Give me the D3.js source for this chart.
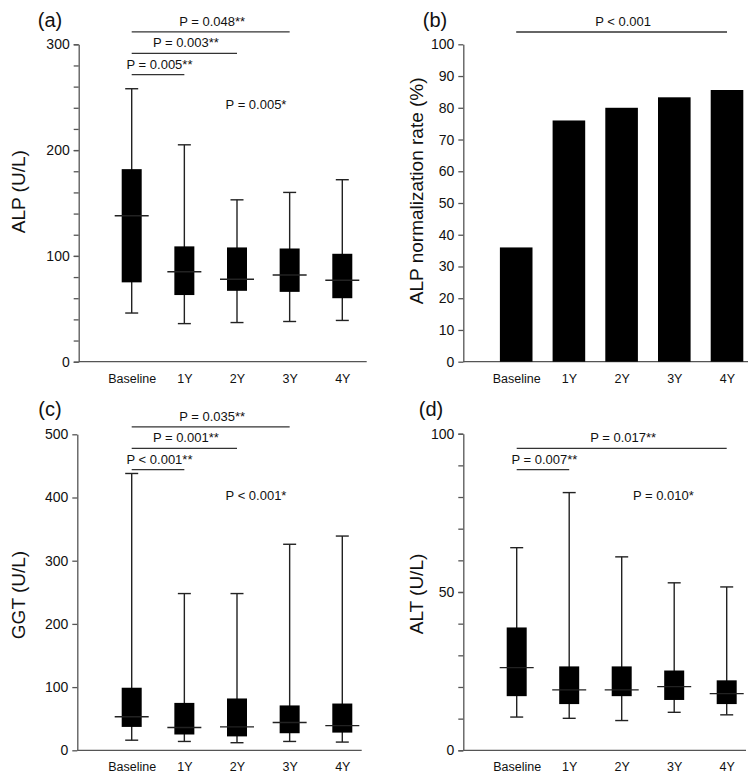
<!DOCTYPE html>
<html>
<head>
<meta charset="utf-8">
<script src="https://cdn.jsdelivr.net/npm/d3@7"></script>
<style>
  body { margin: 0; background: #fff; }
  svg { font-family: "Liberation Sans", Arial, sans-serif; }
  .axis path, .axis line { stroke: #555; stroke-width: 1.3; }
  .axis text { fill: #111; }
</style>
</head>
<body>
<svg id="fig" width="750" height="782"></svg>
<script>
const categories = ["Baseline", "1Y", "2Y", "3Y", "4Y"];

// box stats per category: [low, q1, median, q3, high]
const alpBox = [
  [46, 75, 138, 182, 258],
  [36, 63, 85, 109, 205],
  [37, 67, 78, 108, 153],
  [38, 66, 82, 107, 160],
  [39, 60, 77, 102, 172]
];
const ggtBox = [
  [16, 37, 53, 99, 438],
  [14, 25, 36, 75, 248],
  [12, 22, 37, 82, 248],
  [14, 27, 44, 71, 326],
  [13, 28, 39, 74, 339]
];
const altBox = [
  [10.5, 17.1, 26.1, 38.8, 64],
  [10.1, 14.6, 19.1, 26.5, 81.4],
  [9.4, 17.1, 19.1, 26.5, 61.1],
  [12, 15.9, 20.1, 25.2, 52.9],
  [11.2, 14.6, 17.9, 22.1, 51.6]
];
const alpRate = [36, 76, 80, 83.3, 85.6];

// pairwise comparisons: from / to category index, stacking level
const alpSig = [
  { from: 0, to: 1, level: 0, label: "P = 0.005**" },
  { from: 0, to: 2, level: 1, label: "P = 0.003**" },
  { from: 0, to: 3, level: 2, label: "P = 0.048**" }
];
const rateSig = [{ from: 0, to: 4, level: 0, label: "P < 0.001" }];
const ggtSig = [
  { from: 0, to: 1, level: 0, label: "P < 0.001**" },
  { from: 0, to: 2, level: 1, label: "P = 0.001**" },
  { from: 0, to: 3, level: 2, label: "P = 0.035**" }
];
const altSig = [
  { from: 0, to: 1, level: 0, label: "P = 0.007**" },
  { from: 0, to: 4, level: 1, label: "P = 0.017**" }
];

const svg = d3.select("#fig");

function setupPanel(cfg) {
  const g = svg.append("g");
  const x = d3.scalePoint().domain(categories).range([cfg.first, cfg.first + 4 * cfg.step]);
  const y = d3.scaleLinear().domain(cfg.domain).range([cfg.yBot, cfg.yTop]);

  // minor ticks
  if (cfg.minor) {
    g.append("g").attr("class", "axis")
      .attr("transform", `translate(${cfg.x0},0)`)
      .call(d3.axisLeft(y).tickValues(cfg.minor).tickSize(5).tickFormat(""))
      .call(s => s.select(".domain").remove());
  }
  g.append("g").attr("class", "axis")
    .attr("transform", `translate(${cfg.x0},0)`)
    .call(d3.axisLeft(y).tickValues(cfg.major).tickSize(5).tickSizeOuter(0).tickPadding(4))
    .call(s => s.selectAll("text").style("font-size", "14px"));

  // x axis line + labels
  g.append("line")
    .attr("x1", cfg.x0).attr("x2", cfg.x1)
    .attr("y1", cfg.yBot).attr("y2", cfg.yBot)
    .attr("stroke", "#555").attr("stroke-width", 1.3);
  g.append("g").attr("class", "axis")
    .attr("transform", `translate(0,${cfg.yBot})`)
    .call(d3.axisBottom(x).tickSize(0).tickPadding(12))
    .call(s => s.select(".domain").remove())
    .call(s => s.selectAll("text").style("font-size", "12.5px"));

  // y title
  g.append("text")
    .attr("transform", `translate(${cfg.titleX},${cfg.titleY}) rotate(-90)`)
    .attr("text-anchor", "middle").attr("dy", "0.35em")
    .style("font-size", "19px").attr("fill", "#111")
    .text(cfg.title);

  // panel letter
  g.append("text")
    .attr("x", cfg.letterX).attr("y", cfg.letterY)
    .attr("text-anchor", "middle").attr("dy", "0.35em")
    .style("font-size", "20px").attr("fill", "#111")
    .text(cfg.letter);

  // significance brackets
  cfg.sig.forEach(s => {
    const ly = cfg.sigY - s.level * 21.4;
    const xa = x(categories[s.from]), xb = x(categories[s.to]);
    g.append("line")
      .attr("x1", xa).attr("x2", xb).attr("y1", ly).attr("y2", ly)
      .attr("stroke", "#333").attr("stroke-width", 1.3);
    g.append("text")
      .attr("x", (xa + xb) / 2 + 1.5).attr("y", ly - 10.5)
      .attr("text-anchor", "middle").attr("dy", "0.35em")
      .style("font-size", "13px").attr("fill", "#111")
      .text(s.label);
  });

  if (cfg.overall) {
    g.append("text")
      .attr("x", cfg.overallX).attr("y", cfg.overallY)
      .attr("text-anchor", "middle").attr("dy", "0.35em")
      .style("font-size", "13px").attr("fill", "#111")
      .text(cfg.overall);
  }
  return { g, x, y };
}

function drawBoxes(p, stats) {
  const boxW = 20, medW = 34, capW = 13;
  const items = p.g.selectAll("g.box")
    .data(stats.map((d, i) => ({ cat: categories[i], v: d })))
    .join("g").attr("class", "box");

  items.append("line")
    .attr("x1", d => p.x(d.cat)).attr("x2", d => p.x(d.cat))
    .attr("y1", d => p.y(d.v[4])).attr("y2", d => p.y(d.v[0]))
    .attr("stroke", "#222").attr("stroke-width", 1.4);
  items.selectAll("line.cap")
    .data(d => [d.v[0], d.v[4]].map(v => ({ cat: d.cat, v })))
    .join("line").attr("class", "cap")
    .attr("x1", d => p.x(d.cat) - capW / 2).attr("x2", d => p.x(d.cat) + capW / 2)
    .attr("y1", d => p.y(d.v)).attr("y2", d => p.y(d.v))
    .attr("stroke", "#222").attr("stroke-width", 1.4);
  items.append("rect")
    .attr("x", d => p.x(d.cat) - boxW / 2).attr("width", boxW)
    .attr("y", d => p.y(d.v[3])).attr("height", d => p.y(d.v[1]) - p.y(d.v[3]))
    .attr("fill", "#000");
  items.append("line")
    .attr("x1", d => p.x(d.cat) - medW / 2).attr("x2", d => p.x(d.cat) + medW / 2)
    .attr("y1", d => p.y(d.v[2])).attr("y2", d => p.y(d.v[2]))
    .attr("stroke", "#222").attr("stroke-width", 1.4);
}

// (a) ALP
const pa = setupPanel({
  x0: 78.7, x1: 366.7, yTop: 44.3, yBot: 361.7, domain: [0, 300],
  major: [0, 100, 200, 300], minor: d3.range(0, 301, 20),
  first: 131.7, step: 52.65,
  title: "ALP (U/L)", titleX: 18, titleY: 191.7,
  letter: "(a)", letterX: 50, letterY: 20,
  sig: alpSig, sigY: 74.7,
  overall: "P = 0.005*", overallX: 256, overallY: 104.7
});
drawBoxes(pa, alpBox);

// (b) ALP normalization rate
const pb = setupPanel({
  x0: 463.3, x1: 748, yTop: 44.3, yBot: 361.7, domain: [0, 100],
  major: d3.range(0, 101, 10), minor: null,
  first: 516.2, step: 52.7,
  title: "ALP normalization rate (%)", titleX: 416.7, titleY: 190.8,
  letter: "(b)", letterX: 435, letterY: 20,
  sig: rateSig, sigY: 32
});
pb.g.selectAll("rect.bar")
  .data(alpRate.map((v, i) => ({ cat: categories[i], v })))
  .join("rect").attr("class", "bar")
  .attr("x", d => pb.x(d.cat) - 16.3).attr("width", 32.6)
  .attr("y", d => pb.y(d.v)).attr("height", d => pb.y(0) - pb.y(d.v))
  .attr("fill", "#000");
pb.g.selectAll(".axis").raise();

// (c) GGT
const pc = setupPanel({
  x0: 77.3, x1: 361.7, yTop: 434.3, yBot: 750.3, domain: [0, 500],
  major: d3.range(0, 501, 100), minor: null,
  first: 131.7, step: 52.65,
  title: "GGT (U/L)", titleX: 18, titleY: 595,
  letter: "(c)", letterX: 50, letterY: 409,
  sig: ggtSig, sigY: 469.7,
  overall: "P < 0.001*", overallX: 256, overallY: 495
});
drawBoxes(pc, ggtBox);

// (d) ALT
const pd = setupPanel({
  x0: 463.3, x1: 746, yTop: 433.7, yBot: 750.3, domain: [0, 100],
  major: [0, 50, 100], minor: d3.range(0, 101, 10),
  first: 516.7, step: 52.5,
  title: "ALT (U/L)", titleX: 416.7, titleY: 594,
  letter: "(d)", letterX: 431, letterY: 409,
  sig: altSig, sigY: 469.7,
  overall: "P = 0.010*", overallX: 663.3, overallY: 495
});
drawBoxes(pd, altBox);
</script>
</body>
</html>
